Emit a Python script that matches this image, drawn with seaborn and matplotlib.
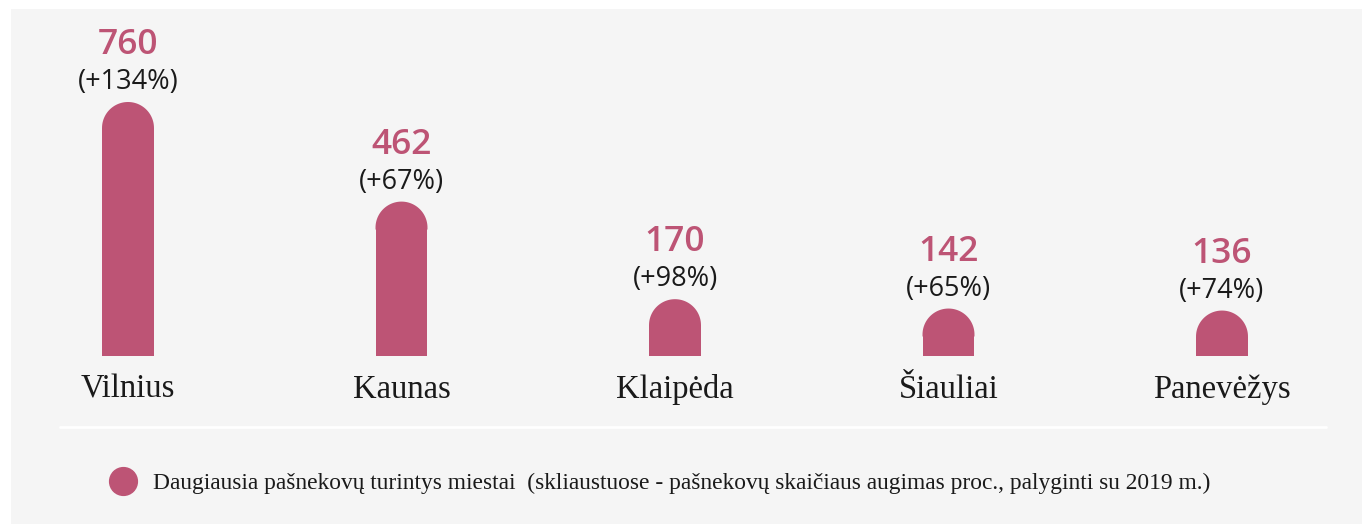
import numpy as np
import matplotlib
matplotlib.use("Agg")
import matplotlib.pyplot as plt
import seaborn as sns
from matplotlib.lines import Line2D
from matplotlib.patches import Rectangle

# ---- data ----
cities = ["Vilnius", "Kaunas", "Klaipėda", "Šiauliai", "Panevėžys"]
counts = [760, 462, 170, 142, 136]
growth = ["(+134%)", "(+67%)", "(+98%)", "(+65%)", "(+74%)"]
legend_label = "Daugiausia pašnekovų turintys miestai  (skliaustuose - pašnekovų skaičiaus augimas proc., palyginti su 2019 m.)"

BAR = "#bd5475"
BG = "#f5f5f5"
W, H = 1362, 524

sns.set_theme(style="white")
plt.rcParams["font.family"] = ["Liberation Serif", "DejaVu Serif"]

fig = plt.figure(figsize=(W / 100, H / 100), dpi=100, facecolor="white")
fig.add_artist(Rectangle((11 / W, 0), 1 - 11 / W, 1 - 9 / H, transform=fig.transFigure,
                         facecolor=BG, edgecolor="none", zorder=-10))

step = 273.5
left_px = 128 - 0.4 * step
ax = fig.add_axes([left_px / W, 168 / H, 4.8 * step / W, 300 / H])
ax.set_facecolor("none")

sns.barplot(x=cities, y=counts, color=BAR, saturation=1, width=0.19, ax=ax,
            edgecolor="none", linewidth=0)
ax.set_xlim(-0.4, 4.4)
ax.set_ylim(0, 300 / (254 / 760))

for s in ax.spines.values():
    s.set_visible(False)
ax.set_yticks([])
ax.tick_params(axis="x", length=0, pad=13, labelsize=23.5, labelcolor="#1a1a1a")
ax.set_xlabel("")
ax.set_ylabel("")

# rounded caps
t0 = ax.transData.transform((0, 0))
px_per_y = ax.transData.transform((0, 1))[1] - t0[1]
px_per_x = ax.transData.transform((1, 0))[0] - t0[0]
theta = np.linspace(0, np.pi, 80)
overlap = 2 / px_per_y
for p in list(ax.patches):
    x0, w, h = p.get_x(), p.get_width(), p.get_height()
    rx = w / 2
    ry = rx * px_per_x / px_per_y
    p.set_height(h - ry)
    xs = np.concatenate([[x0 + w], x0 + rx + rx * np.cos(theta), [x0]])
    ys = np.concatenate([[h - ry - overlap], (h - ry) + ry * np.sin(theta), [h - ry - overlap]])
    ax.fill(xs, ys, color=BAR, lw=0)

for i, (v, g) in enumerate(zip(counts, growth)):
    ax.annotate(g, (i, v), xytext=(0, 20), textcoords="offset pixels",
                ha="center", va="center", fontsize=19.5, color="#1a1a1a",
                family=["Open Sans", "DejaVu Sans"], fontweight="normal")
    ax.annotate(str(v), (i, v), xytext=(0, 57), textcoords="offset pixels",
                ha="center", va="center", fontsize=25.5, color=BAR, fontweight="semibold",
                family=["Open Sans", "DejaVu Sans"])

# separator
fig.add_artist(Line2D([60 / W, 1326 / W], [1 - 427 / H] * 2, transform=fig.transFigure,
                      color="white", lw=2))

handle = Line2D([], [], marker="o", linestyle="none", markersize=20,
                markerfacecolor=BAR, markeredgecolor=BAR)
fig.legend([handle], [legend_label], loc="center left",
           bbox_to_anchor=(78 / W, 1 - 483 / H), frameon=False,
           fontsize=16.9, handletextpad=0.3, labelcolor="#1a1a1a")

fig.savefig("out.png", dpi=100, facecolor="white")
